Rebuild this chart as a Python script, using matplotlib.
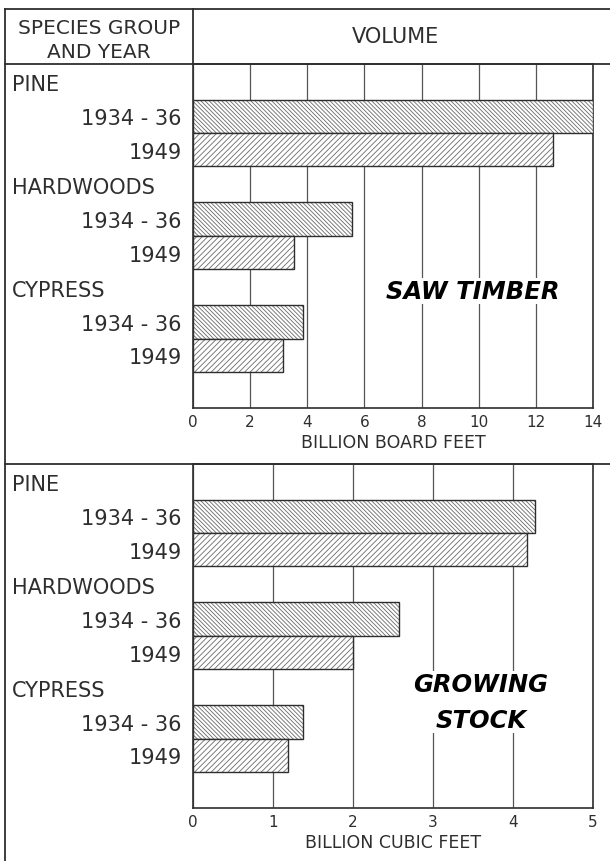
import matplotlib
matplotlib.use('Agg')
import matplotlib.pyplot as plt
import numpy as np
from matplotlib.lines import Line2D
from matplotlib.transforms import blended_transform_factory

# Данные (млрд. board feet / cubic feet)
groups = ['PINE', 'HARDWOODS', 'CYPRESS']
years = ['1934 - 36', '1949']
saw_1934 = [14.0, 5.55, 3.85]
saw_1949 = [12.6, 3.55, 3.15]
grow_1934 = [4.28, 2.57, 1.38]
grow_1949 = [4.18, 2.0, 1.19]

W, H = 610, 862
INK = '#2e2e2e'
HATCH = '#6a6a6a'
plt.rcParams['hatch.linewidth'] = 0.6

fig = plt.figure(figsize=(W / 100, H / 100), dpi=100)
fig.patch.set_facecolor('white')


def px(x):
    return x / W


def py(y):
    return 1 - y / H


def fline(x0, y0, x1, y1, lw=1.3):
    fig.add_artist(Line2D([px(x0), px(x1)], [py(y0), py(y1)],
                          transform=fig.transFigure, color=INK, lw=lw))


def bars(ax, pos, vals, hatch):
    # штриховка светлее контура, поэтому рисуем два раза
    ax.barh(pos, vals, height=1.0, color='white', edgecolor=HATCH,
            hatch=hatch, lw=0, zorder=3)
    ax.barh(pos, vals, height=1.0, fill=False, edgecolor=INK, lw=1.0, zorder=3)


def panel(top, bottom, old, new, xmax, xstep, xlabel, title, title_pos, lsp):
    ax = fig.add_axes([px(193), py(bottom), px(593) - px(193), py(top) - py(bottom)])
    pos_old = [1.56 + 3.07 * g for g in range(len(groups))]
    pos_new = [p + 1 for p in pos_old]
    bars(ax, pos_old, old, '\\\\\\\\\\\\\\\\')
    bars(ax, pos_new, new, '//////')
    ax.set_ylim(10.27, 0)
    ax.set_xlim(0, xmax)
    ax.set_xticks(np.arange(0, xmax + 0.01, xstep))
    ax.set_xticklabels([str(int(v)) for v in np.arange(0, xmax + 0.01, xstep)], fontsize=11)
    ax.set_yticks(pos_old + pos_new)
    ax.set_yticklabels([years[0]] * len(groups) + [years[1]] * len(groups), fontsize=15)
    ax.tick_params(axis='both', length=0, colors=INK)
    ax.tick_params(axis='y', pad=8)
    ax.tick_params(axis='x', pad=4)
    ax.grid(axis='x', color='#555555', lw=0.9)
    ax.set_axisbelow(True)
    for s in ax.spines.values():
        s.set_color(INK)
        s.set_linewidth(1.2)
    ax.text(0.5, -0.1, xlabel, transform=ax.transAxes, ha='center', va='center',
            fontsize=12.5, color=INK)
    # подписи групп
    tr = blended_transform_factory(fig.transFigure, ax.transData)
    for g, name in enumerate(groups):
        ax.text(px(12), pos_old[g] - 0.95, name, transform=tr, ha='left', va='center',
                fontsize=15, color=INK)
    ax.text(title_pos[0], title_pos[1], title, transform=ax.transAxes, ha='center',
            va='center', fontsize=17.5, fontweight='bold', fontstyle='italic', color='black',
            linespacing=lsp, bbox=dict(facecolor='white', edgecolor='none', pad=0.5),
            zorder=4)
    return ax


panel(65, 409, saw_1934, saw_1949, 14, 2, 'BILLION BOARD FEET', 'SAW TIMBER',
      (0.7, 0.34), 1.2)
panel(465, 809, grow_1934, grow_1949, 5, 1, 'BILLION CUBIC FEET', 'GROWING\nSTOCK',
      (0.72, 0.308), 1.65)

# рамка таблицы
fline(5, 10, 610, 10)
fline(5, 10, 5, 862)
fline(5, 65, 610, 65)
fline(193, 10, 193, 65)
fline(5, 465, 610, 465)

fig.text(px(99), py(28), 'SPECIES GROUP', ha='center', va='center', fontsize=14.5, color=INK)
fig.text(px(99), py(52), 'AND YEAR', ha='center', va='center', fontsize=14.5, color=INK)
fig.text(px(395), py(37), 'VOLUME', ha='center', va='center', fontsize=15, color=INK)

fig.savefig('out.png', dpi=100)
